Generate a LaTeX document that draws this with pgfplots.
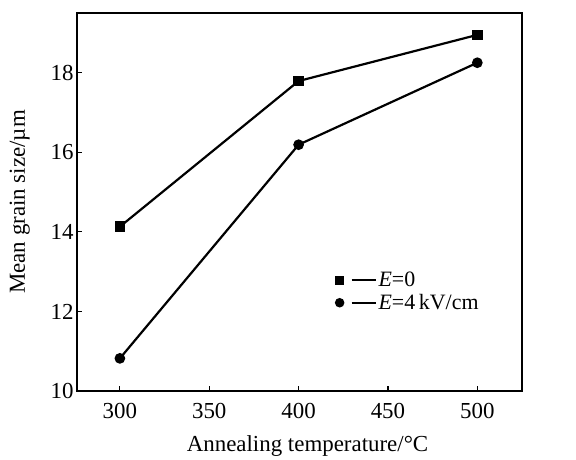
\documentclass[border=0pt]{standalone}
\usepackage{fontspec}
\setmainfont{Liberation Serif}
\usepackage{pgfplots}
\pgfplotsset{compat=1.18}
\usetikzlibrary{calc}

\begin{document}
\begin{tikzpicture}[x=1bp,y=1bp]
\begin{axis}[
    scale only axis,
    width=445bp,
    height=378bp,
    xmin=276, xmax=525,
    ymin=10, ymax=19.5,
    xtick={300,350,400,450,500},
    ytick={10,12,14,16,18},
    tick align=inside,
    major tick length=5bp,
    xtick pos=bottom,
    ytick pos=left,
    axis line style={line width=1.5pt},
    every tick/.style={line width=1.2pt, black},
    font=\fontsize{23}{27}\selectfont,
    /pgf/number format/assume math mode=true,
    xticklabel style={yshift=-9bp},
    xlabel={Annealing temperature/°C},
    ylabel={Mean grain size/µm},
    xlabel style={yshift=-10bp, xshift=8bp},
    ylabel style={yshift=14bp},
    legend style={draw=none, fill=none, at={(0.575,0.325)}, anchor=north west,
        font=\fontsize{22}{25}\selectfont, row sep=2bp},
    legend cell align=left,
    legend image code/.code={
        \draw[#1, mark size=3.6bp] plot[only marks] coordinates {(0bp,0bp)};
        \draw[#1, mark=none, line width=1.8pt] (12bp,0bp) -- (36bp,0bp);
    },
]
% E = 0
\addplot[black, line width=2.2pt, mark=square*, mark size=4.2bp] coordinates {
    (300,14.13) (400,17.79) (500,18.95)
};
\addlegendentry{\textit{E}=0}
% E = 4 kV/cm
\addplot[black, line width=2.2pt, mark=*, mark size=4.2bp] coordinates {
    (300,10.82) (400,16.19) (500,18.25)
};
\addlegendentry{\textit{E}=4\,kV/cm}
\end{axis}
\useasboundingbox ($(current axis.south west)+(-77bp,-66bp)$) rectangle ($(current axis.north east)+(54bp,13bp)$);
\end{tikzpicture}
\end{document}
